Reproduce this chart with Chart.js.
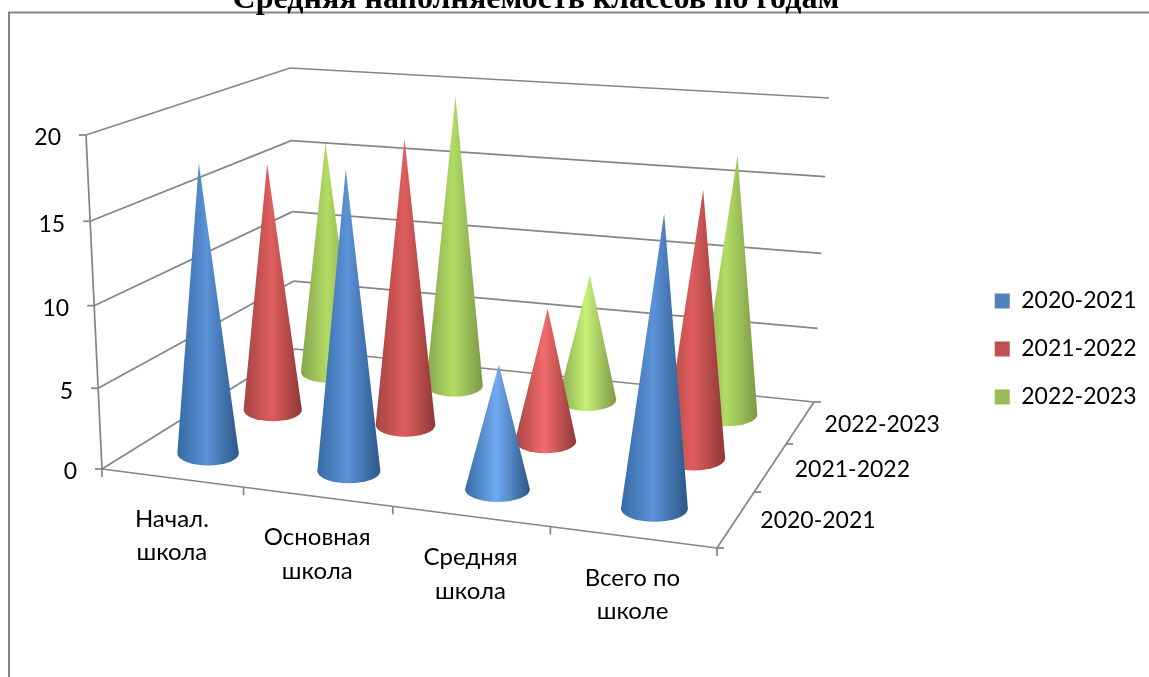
<!DOCTYPE html>
<html>
<head>
<meta charset="utf-8">
<style>
  html, body { margin: 0; padding: 0; background: #fff; overflow: hidden; }
  canvas { display: block; }
</style>
<script src="https://cdn.jsdelivr.net/npm/chart.js@4"></script>
</head>
<body>
<canvas id="coneChart" width="1149" height="677"></canvas>
<script>
const categories = [["Начал.", "школа"], ["Основная", "школа"], ["Средняя", "школа"], ["Всего по", "школе"]];
const seasons = ["2020-2021", "2021-2022", "2022-2023"];
const values2020 = [17.8, 18.0, 7.4, 16.7];
const values2021 = [16.1, 18.2, 8.4, 16.3];
const values2022 = [15.9, 19.5, 8.4, 16.8];
const yTicks = [0, 5, 10, 15, 20];

const GRID = "#868686";
const FONT = "Lato, 'Open Sans', sans-serif";

// corners of the 3D box on the page: f/b = front/back, l/r = left/right, 0/1 = floor/top
const box = {
  fl0: [102, 469], fr0: [717, 548], bl0: [295, 349], br0: [814, 402],
  fl1: [86, 135], fr1: [733, 172], bl1: [290, 68], br1: [829, 98]
};

// perspective: even steps along an axis are not even on the page
function warp(t, k) { return t / (1 + k * (1 - t)); }
function lerp(a, b, t) { return [a[0] + (b[0] - a[0]) * t, a[1] + (b[1] - a[1]) * t]; }

function project(u, v, w) {
  const uu = warp(u, 0.115), vv = warp(v, -0.195), ww = warp(w, 0.045);
  const floor = lerp(lerp(box.fl0, box.fr0, uu), lerp(box.bl0, box.br0, uu), vv);
  const top = lerp(lerp(box.fl1, box.fr1, uu), lerp(box.bl1, box.br1, uu), vv);
  return lerp(floor, top, ww);
}

// 0..1 positions along each axis
function uOf(chart, i) { const s = chart.scales.x; return (s.getPixelForValue(i) - s.left) / s.width; }
function vOf(chart, j) { const s = chart.scales.z; return (s.getPixelForValue(j) - s.left) / s.width; }
function wOf(chart, val) { const s = chart.scales.y; return (s.bottom - s.getPixelForValue(val)) / s.height; }

class ConeController extends Chart.BarController {
  draw() {
    const chart = this.chart, ctx = chart.ctx;
    const ds = this.getDataset();
    const v = vOf(chart, this.index);
    ds.data.forEach(function (val, i) {
      const u = uOf(chart, i);
      const base = project(u, v, 0);
      const apex = project(u, v, wOf(chart, val));
      const a = project(uOf(chart, i - 0.5), v, 0), b = project(uOf(chart, i + 0.5), v, 0);
      const rx = (b[0] - a[0]) * 0.205 + 3 * (1 - u), ry = rx * 0.39;

      const g = ctx.createLinearGradient(base[0] - rx, 0, base[0] + rx, 0);
      g.addColorStop(0, ds.shades[0]);
      g.addColorStop(0.48, val < 10 ? ds.shades[2] : ds.shades[1]);
      g.addColorStop(1, ds.shades[3]);

      ctx.save();
      ctx.beginPath();
      ctx.moveTo(apex[0], apex[1]);
      ctx.lineTo(base[0] - rx, base[1]);
      ctx.ellipse(base[0], base[1], rx, ry, 0, Math.PI, 0, true);
      ctx.closePath();
      ctx.fillStyle = g;
      ctx.fill();
      ctx.restore();
    });
  }
}
ConeController.id = "cone";
ConeController.defaults = Chart.BarController.defaults;
Chart.register(ConeController);

function line(ctx, p, q) {
  ctx.beginPath();
  ctx.moveTo(p[0], p[1]);
  ctx.lineTo(q[0], q[1]);
  ctx.stroke();
}

const boxPlugin = {
  id: "box3d",
  beforeDraw(chart) {
    const ctx = chart.ctx;
    ctx.save();
    ctx.strokeStyle = GRID;
    ctx.lineWidth = 2;
    ctx.beginPath();
    ctx.moveTo(9, chart.height);
    ctx.lineTo(9, 12.5);
    ctx.lineTo(chart.width, 12.5);
    ctx.stroke();
    ctx.restore();
  },
  beforeDatasetsDraw(chart) {
    const ctx = chart.ctx;
    ctx.save();
    ctx.strokeStyle = GRID;
    ctx.lineWidth = 1.75;
    ctx.fillStyle = "#000";
    ctx.textBaseline = "middle";

    // value axis and walls
    ctx.font = "23px " + FONT;
    line(ctx, project(0, 0, 0), project(0, 0, 1));
    chart.scales.y.ticks.forEach(function (t) {
      const w = wOf(chart, t.value);
      const p = project(0, 0, w), back = project(0, 1, w), right = project(1, 1, w);
      line(ctx, p, back);
      line(ctx, back, right);
      line(ctx, p, [p[0] - 7, p[1]]);
      ctx.textAlign = "right";
      ctx.fillText(String(t.value), p[0] - 25, p[1] + 3);
    });

    // category axis
    line(ctx, project(0, 0, 0), project(1, 0, 0));
    for (let i = -0.5; i <= categories.length - 0.5; i++) {
      const p = project(uOf(chart, i), 0, 0);
      line(ctx, p, [p[0], p[1] + 8]);
    }
    ctx.textAlign = "center";
    ctx.font = "24px " + FONT;
    categories.forEach(function (lines, i) {
      const p = project(uOf(chart, i), 0, 0);
      lines.forEach(function (s, n) {
        ctx.fillText(s, p[0], p[1] + 41 + n * 33.5);
      });
    });

    // depth axis
    line(ctx, project(1, 0, 0), project(1, 1, 0));
    for (let j = -0.5; j <= seasons.length - 0.5; j++) {
      const p = project(1, vOf(chart, j), 0);
      line(ctx, p, [p[0] + 7, p[1]]);
    }
    ctx.textAlign = "left";
    ctx.font = "23px " + FONT;
    seasons.forEach(function (s, j) {
      const p = project(1, vOf(chart, j), 0);
      ctx.fillText(s, p[0] + 24, p[1] + 2);
    });
    ctx.restore();
  }
};

new Chart(document.getElementById("coneChart"), {
  type: "cone",
  plugins: [boxPlugin],
  data: {
    labels: categories,
    datasets: [
      { label: seasons[0], data: values2020, backgroundColor: "#4f81bd", clip: false,
        shades: ["#376aa4", "#5b92d7", "#70aaf2", "#2c5688"] },
      { label: seasons[1], data: values2021, backgroundColor: "#c0504d", clip: false,
        shades: ["#a54443", "#de5e5d", "#f26c6c", "#8e3837"] },
      { label: seasons[2], data: values2022, backgroundColor: "#9bbb59", clip: false,
        shades: ["#86a44c", "#b2db64", "#c6f076", "#7c9847"] }
    ]
  },
  options: {
    responsive: false,
    animation: false,
    devicePixelRatio: 1,
    layout: { padding: { left: 102, right: 2.5, top: 0, bottom: -21 } },
    plugins: {
      title: {
        display: true,
        fullSize: false,
        text: "Средняя наполняемость классов по годам",
        color: "#000",
        font: { family: "'Liberation Serif', serif", size: 32, weight: "bold" },
        padding: { top: -19, bottom: 0 }
      },
      legend: {
        position: "right",
        labels: {
          color: "#000",
          font: { family: FONT, size: 23 },
          boxWidth: 15,
          boxHeight: 15,
          padding: 25
        }
      },
      tooltip: { enabled: false }
    },
    scales: {
      x: { display: false, offset: true },
      y: { display: false, min: yTicks[0], max: yTicks[yTicks.length - 1], ticks: { stepSize: yTicks[1] } },
      z: { type: "category", axis: "x", display: false, labels: seasons, offset: true }
    }
  }
});
</script>
</body>
</html>
